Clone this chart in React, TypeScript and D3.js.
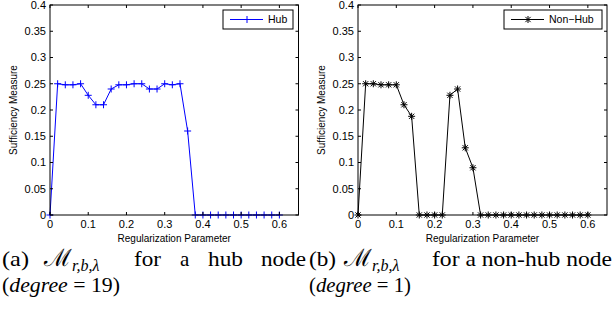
import * as d3 from "d3";

// ---------------------------------------------------------------------------
// Data: sufficiency measure vs regularization parameter (step 0.02)
// ---------------------------------------------------------------------------

const LAMBDAS = d3.range(0, 31).map((i) => +(i * 0.02).toFixed(2));

const HUB_VALUES = [
  0, 0.25, 0.248, 0.248, 0.25, 0.228, 0.21, 0.21, 0.24, 0.248, 0.248,
  0.25, 0.25, 0.24, 0.24, 0.25, 0.248, 0.25, 0.16, 0, 0,
  0, 0, 0, 0, 0, 0, 0, 0, 0, 0,
];

const NONHUB_VALUES = [
  0, 0.25, 0.25, 0.248, 0.248, 0.248, 0.21, 0.188, 0, 0, 0,
  0, 0.228, 0.24, 0.128, 0.09, 0, 0, 0, 0, 0,
  0, 0, 0, 0, 0, 0, 0, 0, 0, 0,
];

const X_TICKS = [0, 0.1, 0.2, 0.3, 0.4, 0.5, 0.6];
const Y_TICKS = [0, 0.05, 0.1, 0.15, 0.2, 0.25, 0.3, 0.35, 0.4];

const SANS = "'Liberation Sans', Arial, Helvetica, sans-serif";
const SERIF = "'Liberation Serif', 'Times New Roman', serif";

// ---------------------------------------------------------------------------
// One MATLAB-style panel
// ---------------------------------------------------------------------------

interface PanelProps {
  left: number;
  right: number;
  values: number[];
  color: string;
  marker: "plus" | "star";
  label: string;
  legendX: number;
  legendW: number;
}

function markerPath(kind: "plus" | "star", x: number, y: number) {
  const r = 3.5;
  if (kind === "plus") return `M${x - r},${y}h${2 * r}M${x},${y - r}v${2 * r}`;
  const d = r * 0.75;
  return (
    `M${x - r},${y}h${2 * r}M${x},${y - r}v${2 * r}` +
    `M${x - d},${y - d}L${x + d},${y + d}M${x - d},${y + d}L${x + d},${y - d}`
  );
}

function Panel({ left, right, values, color, marker, label, legendX, legendW }: PanelProps) {
  const top = 5;
  const bottom = 215;
  const x = d3.scaleLinear().domain([0, 0.65]).range([left, right]);
  const y = d3.scaleLinear().domain([0, 0.4]).range([bottom, top]);
  const pts = LAMBDAS.map((l, i) => [x(l), y(values[i])] as [number, number]);
  const line = d3.line()(pts) ?? "";
  const tick = 3;
  const legY = 10;
  const legH = 19;

  return (
    <g>
      {/* data */}
      <path d={line} fill="none" stroke={color} strokeWidth={1} />
      {pts.map(([px, py], i) => (
        <path key={i} d={markerPath(marker, px, py)} stroke={color} strokeWidth={1} fill="none" />
      ))}

      {/* box */}
      <rect x={left} y={top} width={right - left} height={bottom - top} fill="none" stroke="#000" strokeWidth={1} />

      {/* x ticks */}
      {X_TICKS.map((t) => (
        <g key={`x${t}`}>
          <line x1={x(t)} x2={x(t)} y1={bottom} y2={bottom - tick} stroke="#000" />
          <line x1={x(t)} x2={x(t)} y1={top} y2={top + tick} stroke="#000" />
          <text x={x(t)} y={bottom + 13} textAnchor="middle" fontSize={11} fontFamily={SANS}>
            {t}
          </text>
        </g>
      ))}

      {/* y ticks */}
      {Y_TICKS.map((t) => (
        <g key={`y${t}`}>
          <line x1={left} x2={left + tick} y1={y(t)} y2={y(t)} stroke="#000" />
          <line x1={right} x2={right - tick} y1={y(t)} y2={y(t)} stroke="#000" />
          <text x={left - 4} y={y(t)} dy="0.35em" textAnchor="end" fontSize={11} fontFamily={SANS}>
            {t}
          </text>
        </g>
      ))}

      {/* axis labels */}
      <text x={(left + right) / 2} y={242} textAnchor="middle" fontSize={10} fontFamily={SANS}>
        Regularization Parameter
      </text>
      <text
        transform={`translate(${left - 33},${(top + bottom) / 2}) rotate(-90)`}
        textAnchor="middle"
        fontSize={10}
        fontFamily={SANS}
      >
        Sufficiency Measure
      </text>

      {/* legend */}
      <rect x={legendX} y={legY} width={legendW} height={legH} fill="#fff" stroke="#000" strokeWidth={1} />
      <line x1={legendX + 7} x2={legendX + 40} y1={legY + legH / 2} y2={legY + legH / 2} stroke={color} />
      <path d={markerPath(marker, legendX + 24, legY + legH / 2)} stroke={color} fill="none" />
      <text x={legendX + 45} y={legY + legH / 2} dy="0.35em" fontSize={10.5} fontFamily={SANS}>
        {label}
      </text>
    </g>
  );
}

// ---------------------------------------------------------------------------
// Caption helper: script M with subscript
// ---------------------------------------------------------------------------

function MathM({ x, y }: { x: number; y: number }) {
  return (
    <text x={x} y={y} fontSize={24}>
      <tspan fontFamily="'DejaVu Serif', serif">ℳ</tspan>
      <tspan fontFamily={SERIF} fontStyle="italic" fontSize={16} dy={5}>
        r,b,λ
      </tspan>
    </text>
  );
}

export default function App() {
  return (
    <svg width={616} height={320} style={{ position: "absolute", left: 0, top: 0, background: "#fff" }}>
      <Panel
        left={50}
        right={298.5}
        values={HUB_VALUES}
        color="#0000ff"
        marker="plus"
        label="Hub"
        legendX={223}
        legendW={70}
      />
      <Panel
        left={358}
        right={607}
        values={NONHUB_VALUES}
        color="#000"
        marker="star"
        label="Non−Hub"
        legendX={504}
        legendW={98}
      />

      {/* captions */}
      <g fontFamily={SERIF} fontSize={21} fill="#000">
        <text x={2} y={266} textLength={27} lengthAdjust="spacingAndGlyphs">(a)</text>
        <MathM x={44} y={266} />
        <text x={134} y={266} textLength={27} lengthAdjust="spacingAndGlyphs">for</text>
        <text x={180} y={266}>a</text>
        <text x={208} y={266} textLength={35} lengthAdjust="spacingAndGlyphs">hub</text>
        <text x={261} y={266} textLength={45} lengthAdjust="spacingAndGlyphs">node</text>
        <text x={2} y={292} textLength={118} lengthAdjust="spacingAndGlyphs">
          (<tspan fontStyle="italic">degree</tspan> = 19)
        </text>

        <text x={309} y={266} textLength={27} lengthAdjust="spacingAndGlyphs">(b)</text>
        <MathM x={344} y={266} />
        <text x={432} y={266} textLength={180} lengthAdjust="spacingAndGlyphs">
          for a non-hub node
        </text>
        <text x={309} y={292} textLength={102} lengthAdjust="spacingAndGlyphs">
          (<tspan fontStyle="italic">degree</tspan> = 1)
        </text>
      </g>
    </svg>
  );
}
